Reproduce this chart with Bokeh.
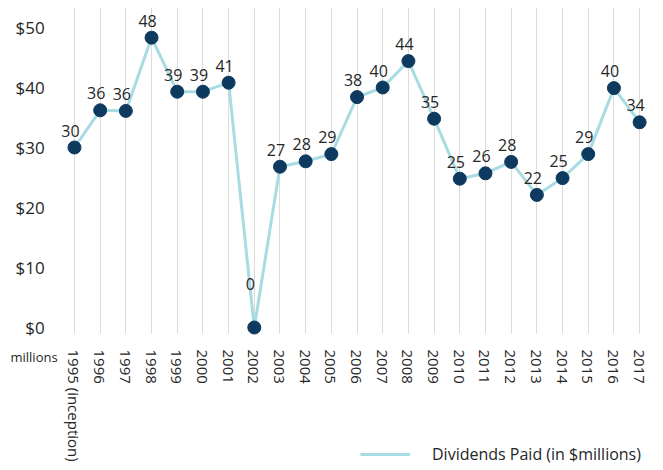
from bokeh.plotting import figure
from bokeh.models import (ColumnDataSource, Range1d, FixedTicker, LabelSet, Label,
                          Legend, LegendItem, NumeralTickFormatter)
from bokeh.core.properties import value
from bokeh.embed import file_html
from bokeh.resources import INLINE

years = ["1995 (inception)", "1996", "1997", "1998", "1999", "2000", "2001", "2002",
         "2003", "2004", "2005", "2006", "2007", "2008", "2009", "2010", "2011",
         "2012", "2013", "2014", "2015", "2016", "2017"]
dividends = [30.0, 36.2, 36.1, 48.3, 39.3, 39.3, 40.8, 0.0, 26.8, 27.7, 28.9, 38.4,
             40.0, 44.4, 34.8, 24.8, 25.7, 27.6, 22.1, 24.9, 28.9, 39.9, 34.2]
y_ticks = [0, 10, 20, 30, 40, 50]

FONT = "Open Sans"
TEXT = "#262626"
LINE = "#a8dce3"
DOT = "#0f3a5f"

xs = list(range(len(years)))
src = ColumnDataSource(dict(
    x=xs, y=dividends,
    lbl=[str(int(round(v))) for v in dividends],
    yoff=[17 if v > 0 else 44 for v in dividends],
))

# whole canvas is the plotting frame; axes are pinned inside it
p = figure(width=663, height=470, output_backend="svg", toolbar_location=None,
           x_range=Range1d(-2.88, 22.93), y_range=Range1d(-23.83, 54.5),
           min_border=0, outline_line_color=None,
           background_fill_color="white", border_fill_color="white")

line_r = p.line("x", "y", source=src, line_color=LINE, line_width=3)
p.scatter("x", "y", source=src, size=13, fill_color=DOT, line_color=DOT)

labels = LabelSet(x="x", y="y", text="lbl", source=src, x_offset=-4, y_offset="yoff",
                  text_align="center", text_baseline="middle", text_font=value(FONT),
                  text_font_size="16px", text_color=TEXT)
p.add_layout(labels)

# x axis
p.xaxis.fixed_location = -1
p.xaxis.ticker = FixedTicker(ticks=xs)
p.xaxis.major_label_overrides = {i: t for i, t in enumerate(years)}
p.xaxis.major_label_orientation = -1.5707963
p.xaxis.major_label_text_font = FONT
p.xaxis.major_label_text_font_size = "15px"
p.xaxis.major_label_text_color = TEXT
p.xaxis.major_label_standoff = 10
p.xaxis.axis_line_color = None
p.xaxis.major_tick_line_color = None
p.xaxis.minor_tick_line_color = None

# y axis
p.yaxis.fixed_location = -0.5
p.yaxis.ticker = FixedTicker(ticks=y_ticks)
p.yaxis.formatter = NumeralTickFormatter(format="$0")
p.yaxis.major_label_text_font = FONT
p.yaxis.major_label_text_font_size = "17px"
p.yaxis.major_label_text_color = TEXT
p.yaxis.major_label_standoff = 11
p.yaxis.axis_line_color = None
p.yaxis.major_tick_line_color = None
p.yaxis.minor_tick_line_color = None

p.xgrid.grid_line_color = "#dcdcdc"
p.xgrid.grid_line_width = 1
p.xgrid.cross_bounds = (-1.0, 53.33)
p.ygrid.grid_line_color = None

p.add_layout(Label(x=-0.5, y=-1.0, x_offset=-4, y_offset=-23, text="millions",
                   text_align="right", text_baseline="middle", text_font=FONT,
                   text_font_size="13px", text_color=TEXT))

legend = Legend(items=[LegendItem(label="Dividends Paid (in $millions)", renderers=[line_r])],
                location=(360, 5), glyph_width=50, glyph_height=20, label_standoff=22,
                padding=0, margin=0, border_line_color=None, background_fill_alpha=0,
                label_text_font=FONT, label_text_font_size="16px", label_text_color=TEXT)
p.add_layout(legend)

open("out.html", "w").write(file_html(p, INLINE))
